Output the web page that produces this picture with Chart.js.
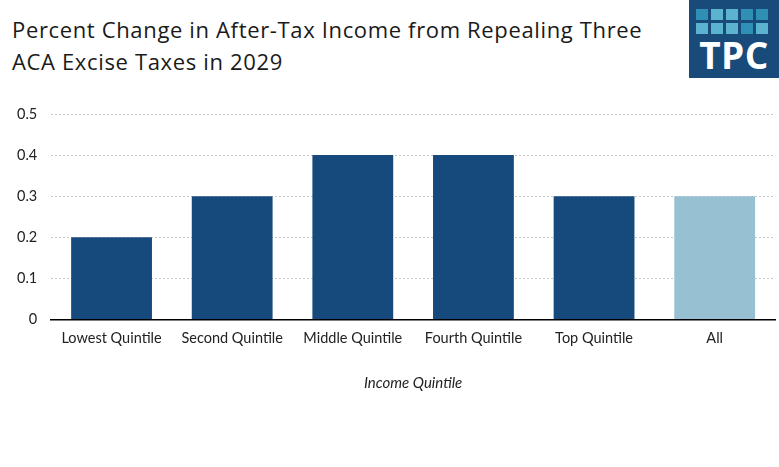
<!DOCTYPE html>
<html>
<head>
<meta charset="utf-8">
<script src="https://cdn.jsdelivr.net/npm/chart.js@4"></script>
<style>
  body { margin: 0; background: #fff; }
  #wrap { position: relative; width: 779px; height: 467px; overflow: hidden; }
  #title { position: absolute; left: 12px; top: 13px; font-family: "Open Sans", Lato, sans-serif; font-size: 22px; line-height: 32px; color: #1a1a1a; letter-spacing: 0.65px; }
  #logo { position: absolute; left: 689px; top: 0; width: 90px; height: 78px; background: #184a7a; }
  #logo .sq { position: absolute; width: 12px; height: 11px; }
  #logo .txt { position: absolute; left: 0; width: 90px; top: 35px; text-align: center; color: #fff; font-family: "Open Sans", Lato, sans-serif; font-weight: 700; font-size: 37px; line-height: 40px; letter-spacing: 0.5px; }
  canvas { position: absolute; left: 0; top: 0; }
</style>
</head>
<body>
<div id="wrap">
  <div id="title">Percent Change in After-Tax Income from Repealing Three<br>ACA Excise Taxes in 2029</div>
  <div id="logo"><div class="txt">TPC</div></div>
  <canvas id="myChart" width="779" height="467"></canvas>
</div>
<script>
var categories = ['Lowest Quintile', 'Second Quintile', 'Middle Quintile', 'Fourth Quintile', 'Top Quintile', 'All'];
var values = [0.2, 0.3, 0.4, 0.4, 0.3, 0.3];
var barColors = ['#174a7c', '#174a7c', '#174a7c', '#174a7c', '#174a7c', '#97c1d2'];
var yTicks = [0, 0.1, 0.2, 0.3, 0.4, 0.5];

// logo squares
var logo = document.getElementById('logo');
var sqColors = [
  ['#2f8fb5', '#5bb3d0', '#5bb3d0', '#2f8fb5', '#2f8fb5'],
  ['#5bb3d0', '#5bb3d0', '#5bb3d0', '#2f8fb5', '#5bb3d0']
];
for (var r = 0; r < 2; r++) {
  for (var c = 0; c < 5; c++) {
    var d = document.createElement('div');
    d.className = 'sq';
    d.style.left = (7 + c * 15) + 'px';
    d.style.top = (9 + r * 14) + 'px';
    d.style.background = sqColors[r][c];
    logo.appendChild(d);
  }
}

var ctx = document.getElementById('myChart').getContext('2d');
var chart = new Chart(ctx, {
    type: 'bar',
    data: {
        labels: categories,
        datasets: [{
            data: values,
            backgroundColor: barColors,
            barPercentage: 0.67,
            categoryPercentage: 1.0
        }]
    },
    options: {
        responsive: false,
        animation: false,
        layout: { padding: { top: 114, right: 4, left: 3, bottom: 71 } },
        plugins: { legend: { display: false }, tooltip: { enabled: false } },
        scales: {
            x: {
                grid: { display: false },
                border: { color: '#000', width: 1.5 },
                ticks: { color: '#222', font: { family: 'Lato', size: 14.5 }, padding: 2 },
                title: { display: true, text: 'Income Quintile', color: '#222', font: { family: 'Lato', size: 15, style: 'italic' }, padding: { top: 25 } }
            },
            y: {
                min: 0,
                max: 0.5,
                afterBuildTicks: function (axis) {
                    axis.ticks = yTicks.map(function (v) { return { value: v }; });
                },
                grid: {
                    color: function (c) { return c.tick && c.tick.value === 0 ? 'rgba(0,0,0,0)' : '#c8c8c8'; },
                    drawTicks: false,
                    lineWidth: 1
                },
                border: { display: false, dash: [2, 2] },
                ticks: { color: '#222', font: { family: 'Lato', size: 14.5 }, padding: 14 }
            }
        }
    }
});
</script>
</body>
</html>
